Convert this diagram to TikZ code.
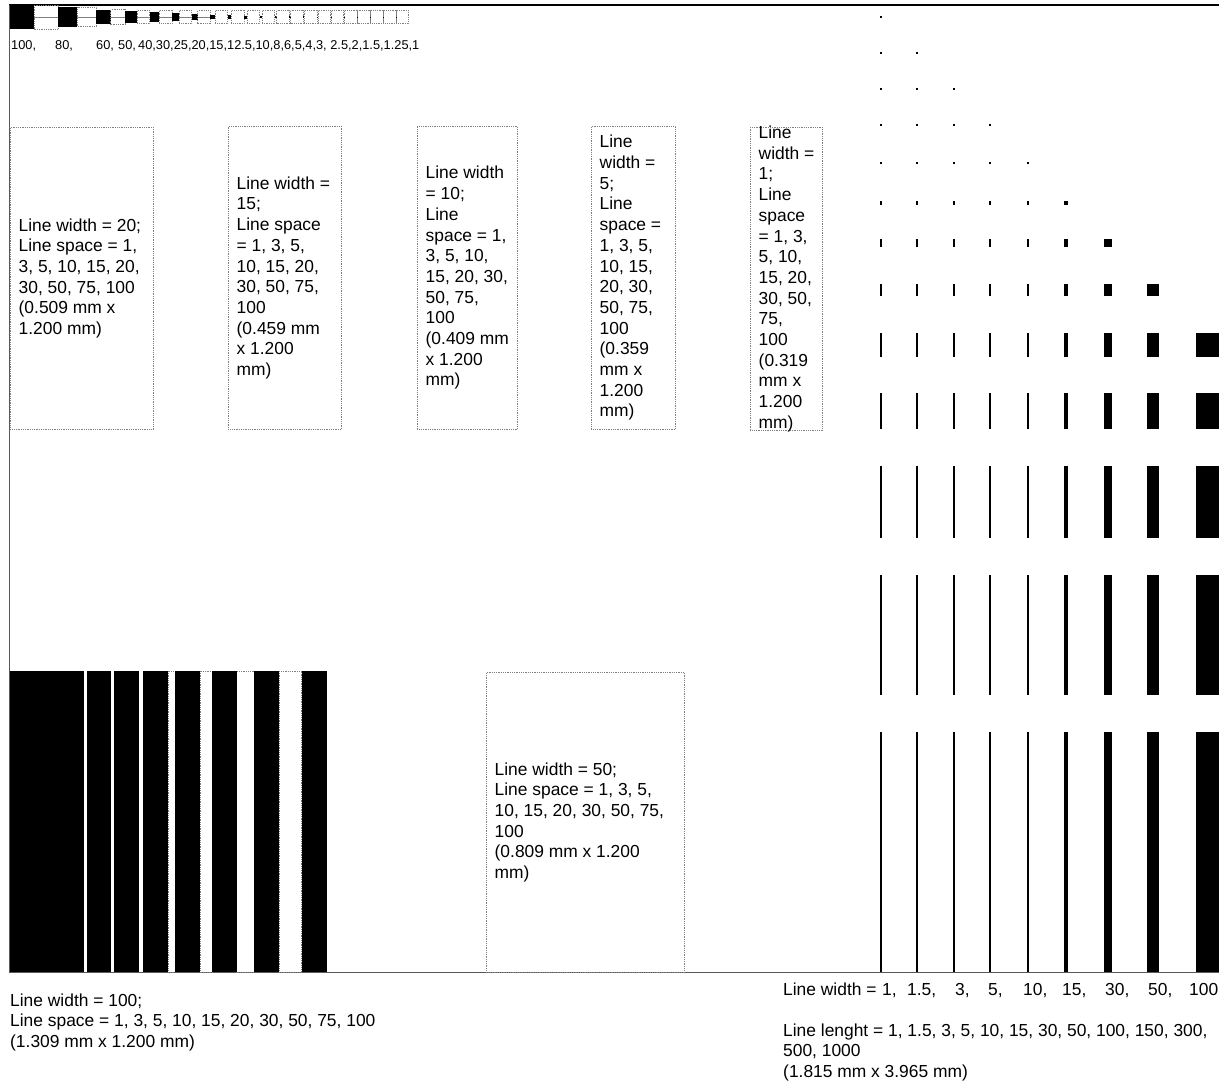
\documentclass[tikz,border=0pt]{standalone}
\usepackage{fontspec}
\setmainfont{Liberation Sans}
\usetikzlibrary{positioning}

\begin{document}
\begin{tikzpicture}[x=1pt, y=-1pt,
  boxtext/.style={align=left, inner sep=0pt, font=\fontsize{17.4}{20.7}\selectfont},
  scalelabel/.style={inner sep=0pt, font=\fontsize{12.8}{15}\selectfont},
  dotbox/.style={draw=gray, densely dotted, line width=0.8pt},
  rimline/.style={draw=black!65, line width=1.2pt}]
\path[fill=white, use as bounding box] (0,0) rectangle (1219,1082);

% outer rim
\draw[black, line width=1.3pt] (9,5) -- (1219,5);
\draw[rimline] (9.5,5) -- (9.5,972.5) -- (1219,972.5);

% size scale, top left
\gdef\xcur{10}
\foreach \v [count=\k] in {100,80,60,50,40,30,25,20,15,12.5,10,8,6,5,4,3,2.5,2,1.5,1.25,1}{
  \pgfmathsetmacro\bw{0.24*\v}
  \pgfmathsetmacro\ww{max(\bw,12.6)}
  \fill (\xcur,17-\bw/2) rectangle ++(\bw,\bw);
  \draw[dotbox] (\xcur+\bw,17-\ww/2) rectangle ++(\ww,\ww);
  \ifnum\k<8 \draw[gray, line width=0.8pt] (\xcur+\bw,17) -- ++(\ww,0);\fi
  \pgfmathsetmacro\xn{\xcur+\bw+\ww}
  \global\let\xcur\xn
}
\node[scalelabel, anchor=base west] (s100) at (11,49) {100,};
\node[scalelabel, anchor=base west] (s80) at (55,49) {80,};
\node[scalelabel, anchor=base west] (s60) at (96,49) {60,};
\node[scalelabel, anchor=base west] (s50) at (118,49) {50,};
\node[scalelabel, anchor=base west] (srest) at (138,49) {40,30,25,20,15,12.5,10,8,6,5,4,3, 2.5,2,1.5,1.25,1};

% line space boxes
\node[dotbox, minimum width=143, minimum height=302, anchor=north west, inner sep=0pt] (box20) at (10,127) {};
\node[boxtext, right=8.5pt of box20.west] (txt20) {Line width = 20;\\Line space = 1,\\3, 5, 10, 15, 20,\\30, 50, 75, 100\\(0.509 mm x\\1.200 mm)};

\node[dotbox, minimum width=113, minimum height=303, anchor=north west, inner sep=0pt] (box15) at (228,126) {};
\node[boxtext, right=8.5pt of box15.west] (txt15) {Line width =\\15;\\Line space\\= 1, 3, 5,\\10, 15, 20,\\30, 50, 75,\\100\\(0.459 mm\\x 1.200\\mm)};

\node[dotbox, minimum width=100, minimum height=303, anchor=north west, inner sep=0pt] (box10) at (417,126) {};
\node[boxtext, right=8.5pt of box10.west] (txt10) {Line width\\= 10;\\Line\\space = 1,\\3, 5, 10,\\15, 20, 30,\\50, 75,\\100\\(0.409 mm\\x 1.200\\mm)};

\node[dotbox, minimum width=84, minimum height=303, anchor=north west, inner sep=0pt] (box5) at (591,126) {};
\node[boxtext, right=8.5pt of box5.west] (txt5) {Line\\width =\\5;\\Line\\space =\\1, 3, 5,\\10, 15,\\20, 30,\\50, 75,\\100\\(0.359\\mm x\\1.200\\mm)};

\node[dotbox, minimum width=72, minimum height=303, anchor=north west, inner sep=0pt] (box1) at (750,127) {};
\node[boxtext, right=8.5pt of box1.west] (txt1) {Line\\width =\\1;\\Line\\space\\= 1, 3,\\5, 10,\\15, 20,\\30, 50,\\75,\\100\\(0.319\\mm x\\1.200\\mm)};

\node[dotbox, minimum width=198, minimum height=300, anchor=north west, inner sep=0pt] (box50) at (486,672) {};
\node[boxtext, right=8.5pt of box50.west] (txt50) {Line width = 50;\\Line space = 1, 3, 5,\\10, 15, 20, 30, 50, 75,\\100\\(0.809 mm x 1.200\\mm)};

% wide lines, bottom left
\foreach \xl/\xr in {168.3/175, 200/212.3, 236.7/254, 279.3/301.7}
  \draw[dotbox] (\xl,671) rectangle (\xr,972);
\foreach \xl/\xr in {10/84.3, 86.7/111, 114.3/139, 143.3/168.3, 175/200, 212.3/236.7, 254/279.3, 301.7/326.7}
  \fill (\xl,671) rectangle (\xr,972);
\node[boxtext, anchor=base west] (txt100) at (10,1047.4) {Line width = 100;\\Line space = 1, 3, 5, 10, 15, 20, 30, 50, 75, 100\\(1.309 mm x 1.200 mm)};

% width x length grid, right
\foreach \len/\yc [count=\i] in {1/17,1.5/53,3/89,5/125,10/163,15/203,30/243,50/290,100/345,150/411,300/502,500/635,1000/852}
  \foreach \wd/\xc [count=\j] in {1/881,1.5/917,3/954,5/990,10/1028,15/1066,30/1108,50/1153,100/1208}{
    \ifnum\j>\i\relax\else
      \pgfmathsetmacro\mw{max(0.24*\wd,1.7)}
      \pgfmathsetmacro\mh{max(0.24*\len,2.6)}
      \fill (\xc-\mw/2,\yc-\mh/2) rectangle ++(\mw,\mh);
    \fi}

\node[boxtext, anchor=base west] (lwlabel) at (783,995) {Line width =};
\foreach \xn/\lab [count=\k] in {882/1, 907/1.5, 955/3, 988/5, 1023/10, 1062/15, 1105/30, 1148/50}
  \node[boxtext, anchor=base west] (lwn\k) at (\xn,995) {\lab,};
\node[boxtext, anchor=base west] (lwn9) at (1189,995) {100};
\node[boxtext, anchor=base west] (lenlabel) at (783,1077.4) {Line lenght = 1, 1.5, 3, 5, 10, 15, 30, 50, 100, 150, 300,\\500, 1000\\(1.815 mm x 3.965 mm)};
\end{tikzpicture}
\end{document}
